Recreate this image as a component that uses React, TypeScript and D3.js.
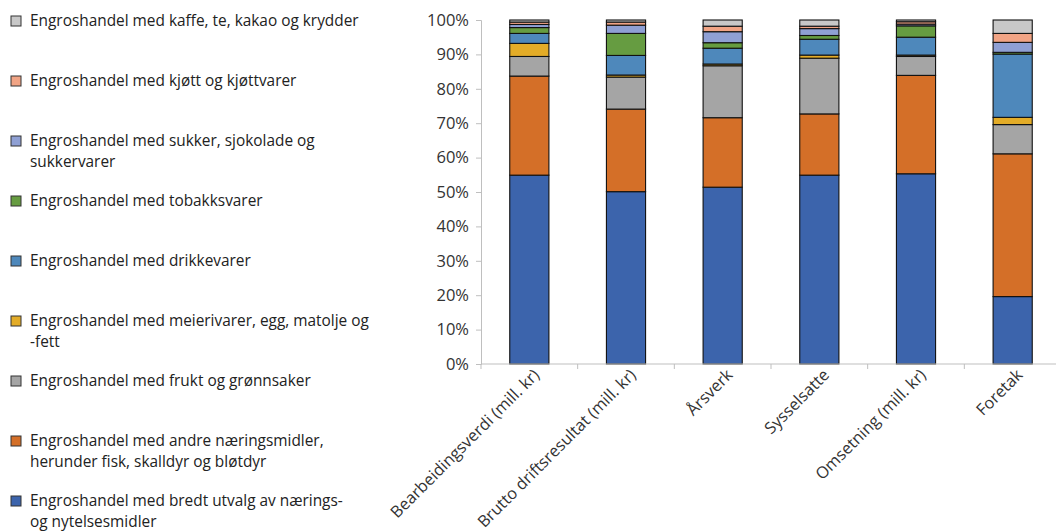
import React, { useEffect, useRef } from "react";
import * as d3 from "d3";

// categories on the x axis
const categories = [
  "Bearbeidingsverdi (mill. kr)",
  "Brutto driftsresultat (mill. kr)",
  "Årsverk",
  "Sysselsatte",
  "Omsetning (mill. kr)",
  "Foretak",
];

// series names, bottom of stack first
const seriesNames = [
  "Engroshandel med bredt utvalg av nærings- og nytelsesmidler",
  "Engroshandel med andre næringsmidler, herunder fisk, skalldyr og bløtdyr",
  "Engroshandel med frukt og grønnsaker",
  "Engroshandel med meierivarer, egg, matolje og -fett",
  "Engroshandel med drikkevarer",
  "Engroshandel med tobakksvarer",
  "Engroshandel med sukker, sjokolade og sukkervarer",
  "Engroshandel med kjøtt og kjøttvarer",
  "Engroshandel med kaffe, te, kakao og krydder",
];

// legend lines (top to bottom), wrapped as in the original
const legendLines = [
  ["Engroshandel med kaffe, te, kakao og krydder"],
  ["Engroshandel med kjøtt og kjøttvarer"],
  ["Engroshandel med sukker, sjokolade og", "sukkervarer"],
  ["Engroshandel med tobakksvarer"],
  ["Engroshandel med drikkevarer"],
  ["Engroshandel med meierivarer, egg, matolje og", "-fett"],
  ["Engroshandel med frukt og grønnsaker"],
  ["Engroshandel med andre næringsmidler,", "herunder fisk, skalldyr og bløtdyr"],
  ["Engroshandel med bredt utvalg av nærings-", "og nytelsesmidler"],
];

const colors = [
  "#3c64ac",
  "#d46f28",
  "#a5a5a5",
  "#e3ac28",
  "#4e88bb",
  "#669c41",
  "#8fa0d4",
  "#f1a485",
  "#c8c8c8",
];

// shares (%) per series, one value per category
const bredt = [54.9, 50.1, 51.4, 54.9, 55.3, 19.6];
const andre = [28.8, 24.0, 20.2, 17.8, 28.6, 41.5];
const frukt = [5.7, 9.3, 15.1, 16.2, 5.5, 8.5];
const meieri = [3.8, 0.6, 0.5, 0.9, 0.4, 2.1];
const drikke = [2.9, 5.7, 4.6, 4.6, 5.2, 18.4];
const tobakk = [1.7, 6.4, 1.6, 1.1, 3.3, 0.5];
const sukker = [0.9, 2.4, 3.2, 2.0, 0.5, 2.9];
const kjott = [0.7, 0.9, 1.6, 0.7, 0.7, 2.6];
const kaffe = [0.6, 0.6, 1.8, 1.8, 0.5, 3.9];

const seriesValues = [bredt, andre, frukt, meieri, drikke, tobakk, sukker, kjott, kaffe];

const yTicks = [0, 10, 20, 30, 40, 50, 60, 70, 80, 90, 100];

const FONT = "'Open Sans', sans-serif";

export default function App() {
  const ref = useRef<SVGSVGElement>(null);

  useEffect(() => {
    const svg = d3.select(ref.current);
    svg.selectAll("*").remove();

    const width = 1056, height = 531;
    const left = 481, right = 1061, top = 20, bottom = 364;

    const rows = categories.map((c, i) => {
      const r: any = { cat: c };
      seriesNames.forEach((s, k) => (r[s] = seriesValues[k][i]));
      return r;
    });
    const stacked = d3.stack().keys(seriesNames)(rows);

    const x = d3.scaleBand().domain(categories).range([left, right]).paddingInner(0.595).paddingOuter(0.2975);
    const y = d3.scaleLinear().domain([0, 100]).range([bottom, top]);

    svg.attr("width", width).attr("height", height);

    // bars
    const g = svg.append("g");
    stacked.forEach((layer, k) => {
      g.selectAll(null)
        .data(layer)
        .enter()
        .append("rect")
        .attr("x", (d: any) => x(d.data.cat)!)
        .attr("width", x.bandwidth())
        .attr("y", (d) => y(d[1]))
        .attr("height", (d) => y(d[0]) - y(d[1]))
        .attr("fill", colors[k])
        .attr("stroke", "#111")
        .attr("stroke-width", 1.1);
    });

    // y axis
    const yAxis = svg.append("g").attr("transform", `translate(${left},0)`)
      .call(d3.axisLeft(y).tickValues(yTicks).tickSize(5).tickPadding(7).tickFormat((d) => d + "%"));
    yAxis.select(".domain").attr("stroke", "#bfbfbf");
    yAxis.selectAll(".tick line").attr("stroke", "#bfbfbf");
    yAxis.selectAll("text").attr("font-family", FONT).attr("font-size", 16.5).attr("fill", "#333");

    // x axis
    const xAxis = svg.append("g").attr("transform", `translate(0,${bottom})`);
    xAxis.append("line").attr("x1", left).attr("x2", right).attr("stroke", "#bfbfbf");
    const step = x.step();
    xAxis.selectAll(null)
      .data(d3.range(categories.length + 1))
      .enter()
      .append("line")
      .attr("x1", (i) => left + i * step)
      .attr("x2", (i) => left + i * step)
      .attr("y1", 0)
      .attr("y2", 5)
      .attr("stroke", "#bfbfbf");
    xAxis.selectAll(null)
      .data(categories)
      .enter()
      .append("text")
      .attr("transform", (d) => `translate(${x(d)! + x.bandwidth() / 2 + 11},${12}) rotate(-45)`)
      .attr("text-anchor", "end")
      .attr("font-family", FONT)
      .attr("font-size", 16.3)
      .attr("fill", "#333")
      .text((d) => d);

    // legend
    const lg = svg.append("g");
    legendLines.forEach((lines, i) => {
      const k = seriesNames.length - 1 - i;
      const cy = 21 + i * 60;
      lg.append("rect")
        .attr("x", 11).attr("y", cy - 5)
        .attr("width", 10).attr("height", 10)
        .attr("fill", colors[k])
        .attr("stroke", "#333").attr("stroke-width", 1);
      lines.forEach((t, j) => {
        lg.append("text")
          .attr("x", 30)
          .attr("y", cy + j * 21)
          .attr("dy", "0.35em")
          .attr("font-family", FONT)
          .attr("font-size", 15.4)
          .attr("fill", "#222")
          .text(t);
      });
    });
  }, []);

  return (
    <div style={{ position: "absolute", left: 0, top: 0 }}>
      <svg ref={ref} />
    </div>
  );
}
